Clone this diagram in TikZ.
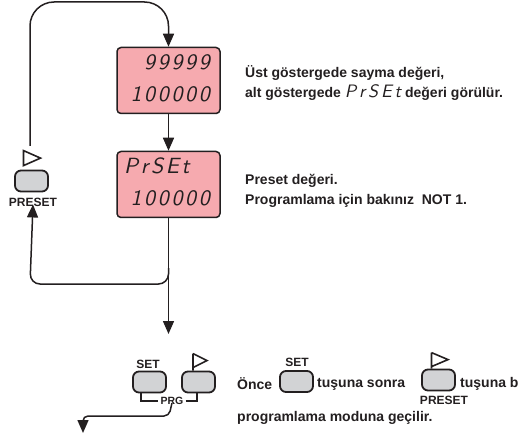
\documentclass[tikz,border=0pt]{standalone}
\usepackage{fontspec}
\setmainfont{Liberation Sans}
\newfontfamily\segfont[LetterSpace=12]{lmsans10-oblique.otf}
\newfontfamily\seginline[LetterSpace=16]{lmsans10-oblique.otf}
\usetikzlibrary{arrows.meta}
\definecolor{LcdPink}{RGB}{246,170,175}
\definecolor{KeyGray}{RGB}{210,211,213}
\definecolor{Ink}{RGB}{35,31,32}
% seven segment look for the display texts
\newcommand{\segtext}[1]{{\segfont\mdseries #1}}

\begin{document}
\begin{tikzpicture}[x=1pt, y=-1pt, every node/.style={font=\bfseries\fontsize{14}{16}\selectfont, text=Ink, inner sep=0pt}]
  \tikzstyle{lcd}=[draw=Ink, line width=1.5pt, rounded corners=4pt, fill=LcdPink,
                   minimum width=103pt, minimum height=66pt]
  \tikzstyle{key}=[draw=Ink, line width=1.8pt, rounded corners=6pt, fill=KeyGray,
                   minimum width=33pt, minimum height=21pt]
  \tikzstyle{digits}=[font=\fontsize{22}{22}\selectfont]
  \tikzstyle{keylabel}=[font=\bfseries\fontsize{12}{14}\selectfont]
  \tikzstyle{flow}=[draw=Ink, line width=1.5pt]
  \tikzstyle{tip}=[-{Triangle[width=11pt,length=13pt]}]
  \tikzstyle{play}=[draw=Ink, line width=1.6pt, line join=miter]
  \useasboundingbox (0,0) rectangle (520,433);

  % the two display states
  \node[lcd] (count) at (168.5,80.5) {};
  \node[digits, anchor=east] (countTop) at (210,62) {\segtext{99999}};
  \node[digits, anchor=east] (countBot) at (210,94) {\segtext{100000}};
  \node[lcd] (preset) at (168.5,184.5) {};
  \node[digits, anchor=west] (presetTop) at (124,166) {\segtext{PrSEt}};
  \node[digits, anchor=east] (presetBot) at (210,198) {\segtext{100000}};

  % PRESET key on the left
  \node[key] (keyL) at (31.5,181) {};
  \draw[play, shift={(keyL.north)}] (-8,-19) -- (-8,-4) -- (9,-11.5) -- cycle;
  \node[keylabel] (keyLlabel) at (33,202) {PRESET};

  % SET + PRESET keys (PRG)
  \node[key] (keyS) at (149.5,382) {};
  \node[keylabel] (keySlabel) at (148,364) {SET};
  \node[key] (keyP) at (198.5,382) {};
  \draw[play, shift={(keyP.north)}] (-5.5,-17) -- (-5.5,0) (-5.5,-17) -- (8.5,-10) -- (-5.5,-3);
  \node[font=\bfseries\fontsize{10.5}{12}\selectfont] (prg) at (172,401) {PRG};
  \draw[flow, line width=1.2pt] (keyS.south -| 141,0) |- ([xshift=-2pt]prg.west);
  \draw[flow, line width=1.2pt] ([xshift=2pt]prg.east) -| (keyP.south -| 197,0);

  % connectors
  \coordinate (loopTop) at (30,146);
  \coordinate (down) at (168.5,334);
  \coordinate (out) at (83,433);
  \draw[flow, tip, rounded corners=24pt] (loopTop) -- (30,2) -- (168.5,2) -- (count.north);
  \draw[flow, tip] (count.south) -- (preset.north);
  \draw[flow, tip] (preset.south) -- (down);
  \draw[flow, tip, rounded corners=10pt] (168.5,268) -- (168.5,284) -- (30,284) -- ([yshift=2pt]keyLlabel.south);
  \draw[flow, tip, rounded corners=5pt] ([yshift=2pt]prg.south) -- (169,416) -- (83,416) -- (out);

  % explanations
  \node[anchor=west] (note1) at (245,73) {Üst göstergede sayma değeri,};
  \node[anchor=west] (note2) at (245,93) {alt göstergede {\fontsize{18}{18}\selectfont\seginline\mdseries PrSEt} değeri görülür.};
  \node[anchor=west] (note3) at (245,181) {Preset değeri.};
  \node[anchor=west] (note4) at (245,201) {Programlama için bakınız\ \ NOT 1.};
  \node[anchor=west] (note5) at (237,384) {Önce};
  \node[key] (keyS2) at (296.5,381.5) {};
  \node[keylabel] (keyS2label) at (297,362) {SET};
  \node[anchor=west] (note6) at (317,384) {tuşuna sonra};
  \node[key] (keyP2) at (438.5,380) {};
  \draw[play, shift={(keyP2.north)}] (-7,-16) -- (-7,0) (-7,-16) -- (9.5,-9) -- (-7,-2);
  \node[keylabel] (keyP2label) at (444,400) {PRESET};
  \node[anchor=west] (note7) at (460,384) {tuşuna b};
  \node[anchor=west] (note8) at (237,418) {programlama moduna geçilir.};
\end{tikzpicture}
\end{document}
